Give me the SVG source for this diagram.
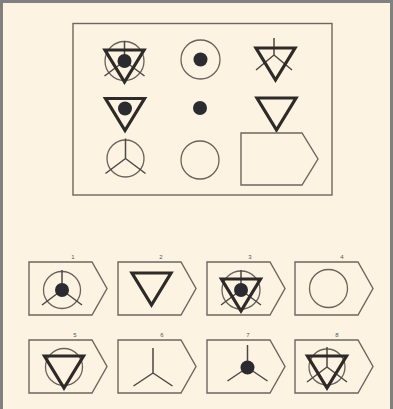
<svg xmlns="http://www.w3.org/2000/svg" width="393" height="409" viewBox="0 0 393 409">
<style>
.bg{fill:#fdf3e2}
.frame{fill:#808080}
.box{fill:none;stroke:#6e6660;stroke-width:1.4}
.c{fill:none;stroke:#6a625c;stroke-width:1.3}
.t{fill:none;stroke:#2e2a28;stroke-width:3.2}
.d{fill:#2c2c30}
.y{fill:none;stroke:#4e4844;stroke-width:1.5}
.n{font-family:"Liberation Sans",Arial,sans-serif;font-size:6px;fill:#555;text-anchor:middle}
</style>
<defs>
<polygon id="tri" class="t" points="-19.5,-11 19.5,-11 0,21"/>
<path id="yy" class="y" d="M0,0V-20M0,0L-20,15M0,0L20,15"/>
</defs>
<rect class="bg" x="0" y="0" width="393" height="409"/>
<rect class="frame" x="0" y="0" width="393" height="3"/>
<rect class="frame" x="0" y="0" width="3" height="409"/>
<rect class="frame" x="390" y="0" width="3" height="409"/>

<g id="matrix">
<rect class="box" x="73" y="23.5" width="259" height="171.5"/>
</g>

<g id="cell-r1c1" transform="translate(124.5,61)">
<circle class="c" r="19.5"/>
<use href="#yy"/>
<use href="#tri"/>
<circle class="d" r="7"/>
</g>
<g id="cell-r1c2" transform="translate(200.5,59.5)">
<circle class="c" r="19.5"/>
<circle class="d" r="7"/>
</g>
<g id="cell-r1c3" transform="translate(275.5,59)">
<path class="y" d="M-1.5,-4V-21M-1.5,-4L-19.5,11M-1.5,-4L16.5,11"/>
<use href="#tri"/>
</g>
<g id="cell-r2c1" transform="translate(125,109.5)">
<use href="#tri"/>
<circle class="d" cy="-1" r="7"/>
</g>
<g id="cell-r2c2">
<circle class="d" cx="200" cy="108" r="7"/>
</g>
<g id="cell-r2c3" transform="translate(276.5,109)">
<use href="#tri"/>
</g>
<g id="cell-r3c1" transform="translate(125.5,158.5)">
<circle class="c" r="18.5"/>
<use href="#yy"/>
</g>
<g id="cell-r3c2">
<circle class="c" cx="200" cy="160" r="19"/>
</g>
<g id="cell-r3c3">
<path class="box" d="M241,133H302L318,159L302,185H241Z"/>
</g>

<g id="opt-1">
<path class="box" d="M29,262H92L107,288.5L92,315H29Z"/>
<text class="n" x="73" y="259">1</text>
<g transform="translate(62,290)">
<circle class="c" r="18.5"/>
<use href="#yy"/>
<circle class="d" r="7"/>
</g>
</g>
<g id="opt-2">
<path class="box" d="M118,262H181L196,288.5L181,315H118Z"/>
<text class="n" x="161" y="259">2</text>
<use href="#tri" x="151.5" y="284"/>
</g>
<g id="opt-3">
<path class="box" d="M207,262H270L285,288.5L270,315H207Z"/>
<text class="n" x="250" y="259">3</text>
<g transform="translate(241,290)">
<circle class="c" r="19"/>
<use href="#yy"/>
<use href="#tri"/>
<circle class="d" r="7"/>
</g>
</g>
<g id="opt-4">
<path class="box" d="M295,262H358L373,288.5L358,315H295Z"/>
<text class="n" x="342" y="259">4</text>
<circle class="c" cx="328.5" cy="288.5" r="19"/>
</g>

<g id="opt-5">
<path class="box" d="M29,340H92L107,366.5L92,393H29Z"/>
<text class="n" x="75" y="337">5</text>
<g transform="translate(64,367)">
<circle class="c" r="18.5"/>
<use href="#tri"/>
</g>
</g>
<g id="opt-6">
<path class="box" d="M118,340H181L196,366.5L181,393H118Z"/>
<text class="n" x="162" y="337">6</text>
<path class="y" d="M153,373V348M153,373L133.5,386M153,373L172.5,386"/>
</g>
<g id="opt-7">
<path class="box" d="M207,340H270L285,366.5L270,393H207Z"/>
<text class="n" x="248" y="337">7</text>
<path class="y" d="M247.5,367.5V345M247.5,367.5L227.5,381M247.5,367.5L267.5,381"/>
<circle class="d" cx="247.5" cy="367.5" r="7"/>
</g>
<g id="opt-8">
<path class="box" d="M295,340H358L373,366.5L358,393H295Z"/>
<text class="n" x="337" y="337">8</text>
<g transform="translate(327,367)">
<circle class="c" r="18"/>
<use href="#yy"/>
<use href="#tri"/>
</g>
</g>
</svg>
